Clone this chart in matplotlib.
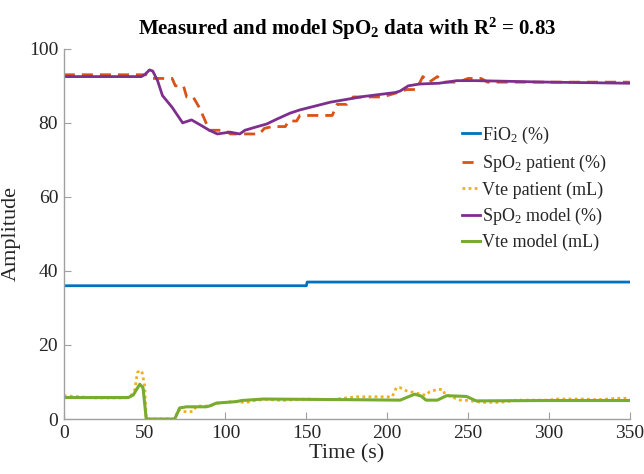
import matplotlib
matplotlib.use("Agg")
import matplotlib.pyplot as plt

# ---- data ----
fio2_t = [0, 150, 150.5, 350]
fio2_v = [36, 36, 37, 37]

spo2p_t = [0, 51, 55, 67, 69, 74, 76, 80, 84, 90, 100, 103, 121, 124, 129, 137, 139, 144,
           146, 166, 169, 175, 179, 197, 205, 212, 218, 222, 226, 231, 235, 244, 250, 258, 262, 350]
spo2p_v = [93, 93, 92, 92, 90, 90, 87, 87, 84, 78, 78, 77, 77, 78.5, 79, 79, 80.5, 80.5,
           82, 82, 85, 85, 87, 87, 88, 89, 89, 92.5, 91, 92.5, 91, 91, 92, 92, 91, 91]

vtep_t = [0, 10, 20, 38, 42, 44, 45.5, 47, 48.5, 50, 51, 68.5, 71, 73, 80, 82, 90, 95, 100,
          107, 112, 118, 125, 135, 150, 165, 181, 203, 205.7, 207.8, 212, 218, 224, 226, 231,
          234.5, 235.6, 245, 248, 259, 270, 280, 300, 305, 321, 330, 342, 350]
vtep_v = [6.3, 6.0, 5.7, 5.7, 6.5, 8.0, 12.5, 13.2, 12.5, 9.0, 0, 0, 2.5, 2.0, 2.0, 3.5, 3.5, 4.3, 4.5,
          4.8, 4.4, 5.0, 5.3, 5.0, 5.4, 5.2, 6.0, 6.0, 8.5, 8.5, 7.6, 7.0, 6.4, 7.3, 8.0,
          8.0, 6.7, 5.1, 5.1, 4.5, 4.5, 5.1, 5.1, 5.4, 5.4, 5.2, 5.6, 5.6]

spo2m_t = [0, 48, 50, 53, 55, 58, 61, 67, 73.5, 79, 85, 90, 95, 102.7, 108.8, 112, 119, 125.5,
           131.7, 139.8, 146, 165, 185, 205, 208, 213, 220, 232, 243, 255, 300, 350]
spo2m_v = [92.5, 92.5, 93, 94.3, 94, 91.4, 87.4, 84.2, 80, 80.8, 79.3, 78, 77, 77.5, 77, 78, 78.9, 79.7,
           81, 82.6, 83.5, 85.6, 87.1, 88.2, 88.6, 90, 90.5, 90.7, 91.4, 91.4, 91, 90.7]

vtem_t = [0, 40, 43, 47, 49, 51, 68.6, 71.7, 76, 88, 90, 94.4, 106.8, 110, 123.3, 183, 208,
          213, 217, 221, 224, 231, 236.7, 249, 255, 300, 350]
vtem_v = [5.8, 5.8, 6.5, 9.4, 8.5, 0, 0, 3.0, 3.3, 3.3, 3.5, 4.3, 4.7, 5.0, 5.4, 5.2, 5.1,
          6.0, 6.7, 6.2, 5.1, 5.1, 6.3, 6.1, 4.9, 5.0, 5.0]

labels = [r"FiO$_2$ (%)", r"SpO$_2$ patient (%)", "Vte patient (mL)",
          r"SpO$_2$ model (%)", "Vte model (mL)"]
xticks = [0, 50, 100, 150, 200, 250, 300, 350]
yticks = [0, 20, 40, 60, 80, 100]

# ---- style ----
plt.rcParams['font.family'] = ['Liberation Serif', 'DejaVu Serif']
plt.rcParams['mathtext.fontset'] = 'custom'
plt.rcParams['mathtext.rm'] = 'Liberation Serif'
plt.rcParams['mathtext.it'] = 'Liberation Serif:italic'
plt.rcParams['mathtext.bf'] = 'Liberation Serif:bold'

fig = plt.figure(figsize=(6.44, 4.74), dpi=100)
ax = fig.add_axes([0.099, 0.116, 0.879, 0.781])

c_blue, c_orange, c_yellow, c_purple, c_green = '#0072BD', '#D95319', '#EDB120', '#7E2F8E', '#77AC30'

ax.plot(fio2_t, fio2_v, color=c_blue, lw=2, label=labels[0])
ax.plot(spo2p_t, spo2p_v, color=c_orange, lw=2, ls=(0, (4, 2.5)), label=labels[1])
ax.plot(vtep_t, vtep_v, color=c_yellow, lw=2, ls=(0, (1, 1.2)), label=labels[2])
ax.plot(spo2m_t, spo2m_v, color=c_purple, lw=2, label=labels[3])
ax.plot(vtem_t, vtem_v, color=c_green, lw=2.2, label=labels[4])

ax.set_xlim(0, 350)
ax.set_ylim(0, 100)
ax.set_xticks(xticks)
ax.set_yticks(yticks)
for s in ['top', 'right']:
    ax.spines[s].set_visible(False)
for s in ['left', 'bottom']:
    ax.spines[s].set_color('#a0a0a0')
    ax.spines[s].set_linewidth(1)
ax.tick_params(direction='in', length=5, color='#a0a0a0', labelsize=14, labelcolor='#262626', pad=4)

ax.set_xlabel("Time (s)", fontsize=16, color='#262626', labelpad=2)
ax.set_ylabel("Amplitude", fontsize=16, color='#262626', labelpad=6)
ax.set_title(r"Measured and model SpO$_\mathbf{2}$ data with R$^\mathbf{2}$ = 0.83",
             fontsize=15, fontweight='bold', pad=10)

leg = ax.legend(loc='upper left', bbox_to_anchor=(0.69, 0.815), frameon=False, fontsize=13,
                handlelength=1.0, handletextpad=0.15, labelspacing=0.4, borderaxespad=0)
for t in leg.get_texts():
    t.set_color('#262626')

fig.savefig("out.png", dpi=100)
